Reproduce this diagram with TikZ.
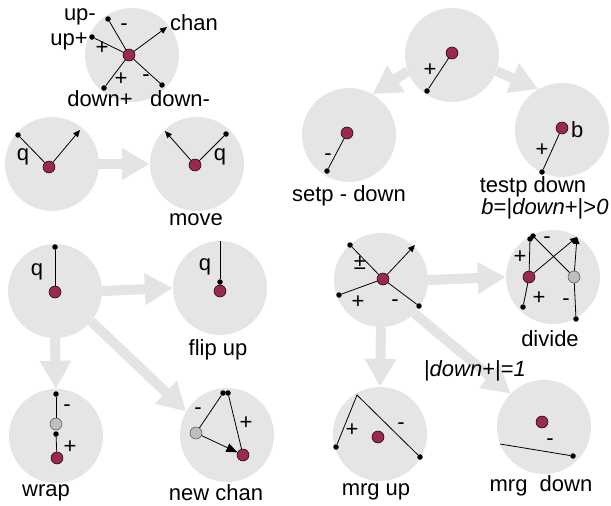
\documentclass[tikz,border=0pt]{standalone}
\usepackage{fontspec}
\setmainfont{Liberation Sans}
\usetikzlibrary{arrows.meta}
\definecolor{cgray}{RGB}{229,229,229}
\definecolor{cflow}{RGB}{228,228,228}
\definecolor{cred}{RGB}{155,40,80}
\definecolor{cgdot}{RGB}{190,190,190}
\tikzset{
  bigc/.style={circle,fill=cgray,minimum size=94pt,inner sep=0pt},
  rdot/.style={circle,fill=cred,draw=black,line width=0.5pt,minimum size=12pt,inner sep=0pt},
  gdot/.style={circle,fill=cgdot,draw=black!70,line width=0.5pt,minimum size=12pt,inner sep=0pt},
  bdot/.style={circle,fill=black,minimum size=5.5pt,inner sep=0pt},
  flow/.style={draw=cflow,line width=10pt,-{Triangle[length=28pt,width=30pt]}},
  lnk/.style={draw=black,line width=0.8pt},
  arr/.style={lnk,-{Triangle[length=7pt,width=6pt]}},
  lbl/.style={inner sep=0pt,font=\fontsize{22}{26}\selectfont},
}
\begin{document}
\begin{tikzpicture}[x=1pt,y=-1pt]
\path[use as bounding box] (0,0) rectangle (611,506);
% big circles
\node[bigc] (ctl) at (132,55) {};
\node[bigc] (cq) at (52,164) {};
\node[bigc] (cmove) at (197,164) {};
\node[bigc] (ctop) at (452,55) {};
\node[bigc] (csetp) at (349,135) {};
\node[bigc] (ctestp) at (562,130) {};
\node[bigc] (cfl) at (55,291) {};
\node[bigc] (cfu) at (220,288) {};
\node[bigc] (cwrap) at (56,436) {};
\node[bigc] (cnc) at (227,435) {};
\node[bigc] (cmrg) at (381,280) {};
\node[bigc] (cdiv) at (553,277) {};
\node[bigc] (cmu) at (380,434) {};
\node[bigc] (cmd) at (544,427) {};
% flow arrows
\draw[flow] (cq.east) -- (cmove.west);
\draw[flow] (ctop.200) -- (csetp.60);
\draw[flow] (ctop.-20) -- (ctestp.120);
\draw[flow] (cfl.east) -- (cfu.west);
\draw[flow] (cfl.south) -- (cwrap.north);
\draw[flow] (cfl.-40) -- (cnc.150);
\draw[flow] (cmrg.east) -- (cdiv.west);
\draw[flow] (cmrg.south) -- (cmu.north);
\draw[flow] (cmrg.-45) -- (cmd.135);
% ---- top-left legend
\node[rdot] (r1) at (129,55) {};
\node[bdot] (upm) at (108,19) {};
\node[bdot] (upp) at (92,37) {};
\node[bdot] (dnp) at (104,88) {};
\node[bdot] (dnm) at (162,85) {};
\coordinate (chanend) at (167,27);
\draw[lnk] (upm) -- (r1);
\draw[lnk] (upp) -- (r1);
\draw[lnk] (dnp) -- (r1);
\draw[lnk] (dnm) -- (r1);
\draw[arr] (r1) -- (chanend);
\node[lbl,anchor=east] (tupm) at (96,17) {up-};
\node[lbl,anchor=east] (tupp) at (88,41) {up+};
\node[lbl,anchor=west] (tchan) at (170,23) {chan};
\node[lbl] (tdnp) at (100,99) {down+};
\node[lbl] (tdnm) at (180,99) {down-};
\node[lbl] (s1) at (102,48) {+};
\node[lbl] (s2) at (124,27) {-};
\node[lbl] (s3) at (121,79) {+};
\node[lbl] (s4) at (146,78) {-};
% ---- q / move
\node[rdot] (r2) at (49,167) {};
\node[bdot] (d2) at (18,135) {};
\coordinate (e2) at (80,130);
\draw[lnk] (d2) -- (r2);
\draw[arr] (r2) -- (e2);
\node[lbl] (q2) at (23,157) {q};
\node[rdot] (r3) at (195,165) {};
\node[bdot] (d3) at (226,134) {};
\coordinate (e3) at (165,131);
\draw[lnk] (d3) -- (r3);
\draw[arr] (r3) -- (e3);
\node[lbl] (q3) at (220,157) {q};
\node[lbl] (tmove) at (196,220) {move};
% ---- top / setp / testp
\node[rdot] (r4) at (452,53) {};
\node[bdot] (d4) at (427,91) {};
\draw[lnk] (d4) -- (r4);
\node[lbl] (s5) at (430,70) {+};
\node[rdot] (r5) at (347,133) {};
\node[bdot] (d5) at (327,171) {};
\draw[lnk] (d5) -- (r5);
\node[lbl] (s6) at (328,157) {-};
\node[lbl] (tsetp) at (349,196) {setp - down};
\node[rdot] (r6) at (562,128) {};
\node[bdot] (d6) at (542,172) {};
\draw[lnk] (d6) -- (r6);
\node[lbl] (s7) at (542,150) {+};
\node[lbl,anchor=west] (tb) at (571,130) {b};
\node[lbl] (ttestp) at (533,187) {testp down};
\node[lbl] (tcond) at (545,209) {\textit{b}=|\textit{down}+|>\textit{0}};
% ---- flip
\node[rdot] (r7) at (55,292) {};
\node[bdot] (d7) at (55,247) {};
\draw[lnk] (d7) -- (r7);
\node[lbl] (q7) at (37,272) {q};
\node[rdot] (r8) at (220,291) {};
\node[bdot] (d8) at (220,282) {};
\coordinate (e8) at (220,241);
\draw[lnk] (e8) -- (d8);
\node[lbl] (q8) at (205,267) {q};
\node[lbl] (tflip) at (218,350) {flip up};
% ---- wrap
\node[bdot] (w1) at (56,394) {};
\node[gdot] (w2) at (56,424) {};
\node[bdot] (w3) at (56,434) {};
\node[rdot] (w4) at (57,458) {};
\draw[lnk] (w1) -- (w2);
\draw[lnk] (w3) -- (w4);
\node[lbl] (s8) at (67,408) {-};
\node[lbl] (s9) at (70,447) {+};
\node[lbl] (twrap) at (46,493) {wrap};
% ---- new chan
\node[bdot] (n1) at (223,393) {};
\node[bdot] (n1b) at (228,393) {};
\node[gdot] (n2) at (196,433) {};
\node[rdot] (n3) at (243,455) {};
\draw[lnk] (n1) -- (n2);
\draw[lnk] (n1b) -- (n3);
\draw[lnk,-{Triangle[length=11pt,width=9pt]}] (n2) -- (n3);
\node[lbl] (s10) at (198,411) {-};
\node[lbl] (s11) at (246,423) {+};
\node[lbl] (tnc) at (216,493) {new chan};
% ---- mrg
\node[rdot] (m0) at (383,279) {};
\node[bdot] (m1) at (350,245) {};
\node[bdot] (m2) at (339,295) {};
\node[bdot] (m3) at (419,306) {};
\coordinate (me) at (415,245);
\draw[lnk] (m1) -- (m0);
\draw[lnk] (m2) -- (m0);
\draw[lnk] (m3) -- (m0);
\draw[arr] (m0) -- (me);
\node[lbl] (s12) at (360,263) {±};
\node[lbl] (s13) at (358,302) {+};
\node[lbl] (s14) at (395,303) {-};
% ---- divide
\node[rdot] (v1) at (529,277) {};
\node[gdot] (v2) at (574,277) {};
\node[bdot] (v3) at (530,239) {};
\node[bdot] (v4) at (533,236) {};
\node[bdot] (v5) at (523,307) {};
\node[bdot] (v6) at (576,319) {};
\coordinate (vt) at (577,237);
\draw[lnk] (v1) -- (v3);
\draw[lnk] (v4) -- (v2);
\draw[arr] (v1) -- (vt);
\draw[arr] (v2) -- (vt);
\draw[lnk] (v1) -- (v5);
\draw[lnk] (v2) -- (v6);
\node[lbl] (s15) at (520,257) {+};
\node[lbl] (s16) at (547,240) {-};
\node[lbl] (s17) at (539,298) {+};
\node[lbl] (s18) at (566,302) {-};
\node[lbl] (tdiv) at (550,339) {divide};
\node[lbl] (tone) at (475,371) {|\textit{down}+|=\textit{1}};
% ---- mrg up
\node[rdot] (u0) at (378,437) {};
\node[bdot] (u1) at (336,447) {};
\node[bdot] (u2) at (420,457) {};
\coordinate (uc) at (357,395);
\draw[lnk] (u1) -- (uc) -- (u2);
\node[lbl] (s19) at (352,430) {+};
\node[lbl] (s20) at (401,426) {-};
\node[lbl] (tmu) at (376,492) {mrg up};
% ---- mrg down
\node[rdot] (o0) at (542,422) {};
\node[bdot] (o1) at (573,456) {};
\coordinate (oe) at (500,444);
\draw[lnk] (oe) -- (o1);
\node[lbl] (s21) at (550,442) {-};
\node[lbl] (tmd) at (541,486) {mrg\ \ down};
\end{tikzpicture}
\end{document}
